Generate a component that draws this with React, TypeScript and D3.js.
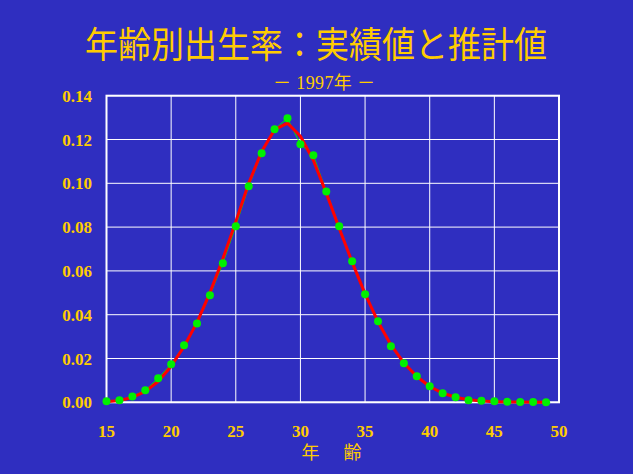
import React from "react";
import * as d3 from "d3";

const ages = [15,16,17,18,19,20,21,22,23,24,25,26,27,28,29,30,31,32,33,34,35,36,37,38,39,40,41,42,43,44,45,46,47,48,49];
const actual = [0.0005,0.0009,0.0027,0.0055,0.011,0.0174,0.026,0.036,0.0489,0.0635,0.0804,0.0986,0.1137,0.1247,0.1297,0.1178,0.1128,0.0963,0.0804,0.0644,0.0493,0.037,0.0256,0.0178,0.0119,0.0073,0.0041,0.0023,0.0009,0.0007,0.0005,0.0002,0.0001,0.0001,0.0];
const estimated = [0.0003,0.0008,0.0022,0.005,0.0095,0.0165,0.0255,0.0365,0.05,0.0655,0.0825,0.1,0.1145,0.1245,0.1275,0.1215,0.1105,0.0955,0.0795,0.064,0.0495,0.0368,0.0262,0.018,0.0118,0.0072,0.0042,0.0023,0.0012,0.0006,0.0003,0.0001,0.0001,0.0,0.0];
const xTicks = [15,20,25,30,35,40,45,50];
const yTicks = [0,0.02,0.04,0.06,0.08,0.1,0.12,0.14];
const title = "年齢別出生率：実績値と推計値";
const subtitle = "－ 1997年 －";
const xTitle = "年　齢";

export default function App() {
  const W = 633, H = 474;
  const left = 106.5, right = 559, top = 95.7, bottom = 402.3;
  const x = d3.scaleLinear().domain([15, 50]).range([left, right]);
  const y = d3.scaleLinear().domain([0, 0.14]).range([bottom, top]);
  const line = d3.line<number>().x((_, i) => x(ages[i])).y((d) => y(d));
  const gold = "#FFCC00";
  const serif = "'Liberation Serif', 'DejaVu Serif', serif";
  const cjk = "'Noto Sans CJK JP', sans-serif";
  return (
    <svg width={W} height={H} style={{ position: "absolute", left: 0, top: 0, display: "block" }}>
      <rect x={0} y={0} width={W} height={H} fill="#2F2EC0" />
      <text x={316} y={58} textAnchor="middle" fill={gold} fontFamily={cjk} fontSize={36} textLength={462} lengthAdjust="spacingAndGlyphs">{title}</text>
      <text x={324} y={89} textAnchor="middle" fill={gold} fontFamily={"'Liberation Serif', 'Noto Sans CJK JP', serif"} fontSize={18} textLength={102} lengthAdjust="spacing">{subtitle}</text>
      {xTicks.map((t) => (
        <line key={"gx" + t} x1={x(t)} x2={x(t)} y1={top} y2={bottom} stroke="#fff" strokeWidth={1} />
      ))}
      {yTicks.map((t) => (
        <line key={"gy" + t} x1={left} x2={right} y1={y(t)} y2={y(t)} stroke="#fff" strokeWidth={1} />
      ))}
      <rect x={left} y={top} width={right - left} height={bottom - top} fill="none" stroke="#fff" strokeWidth={2} />
      {yTicks.map((t) => (
        <text key={"ly" + t} x={92} y={y(t) + 6} textAnchor="end" fill={gold} fontFamily={serif} fontWeight="bold" fontSize={17}>{t.toFixed(2)}</text>
      ))}
      {xTicks.map((t) => (
        <text key={"lx" + t} x={x(t)} y={437} textAnchor="middle" fill={gold} fontFamily={serif} fontWeight="bold" fontSize={17}>{t}</text>
      ))}
      <text x={333} y={459} textAnchor="middle" fill={gold} fontFamily={cjk} fontSize={18} letterSpacing={3}>{xTitle}</text>
      <path d={line(actual) || ""} fill="none" stroke="#00EE00" strokeWidth={1} />
      <path d={line(estimated) || ""} fill="none" stroke="#FF0000" strokeWidth={3} strokeLinejoin="round" />
      {actual.map((v, i) => (
        <circle key={"p" + i} cx={x(ages[i])} cy={y(v)} r={4} fill="#00F000" />
      ))}
    </svg>
  );
}
